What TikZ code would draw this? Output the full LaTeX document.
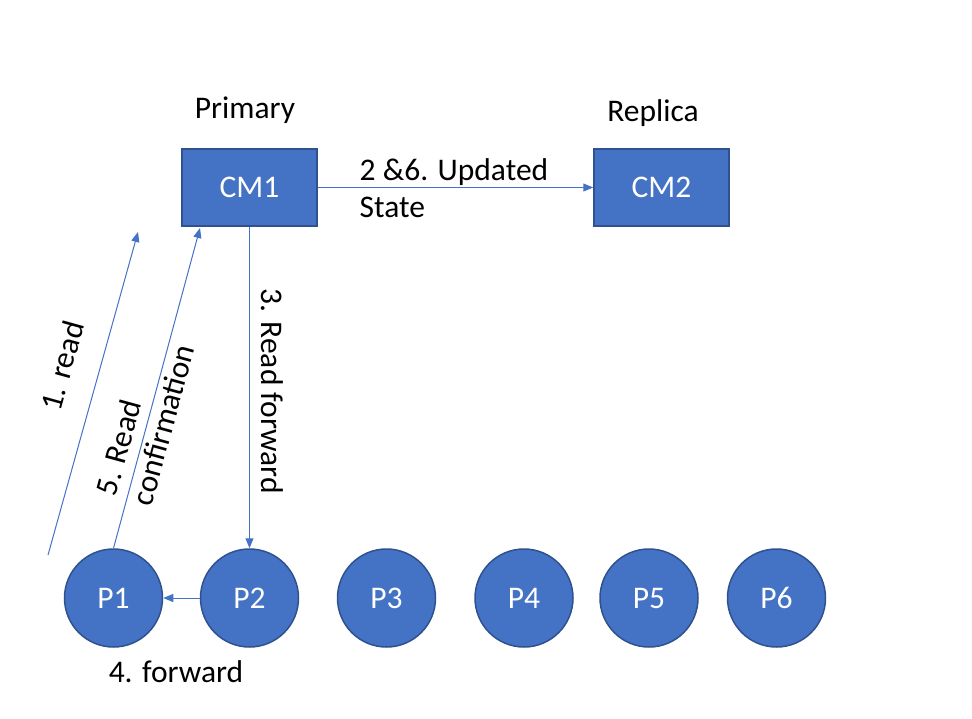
\documentclass[tikz,border=0pt]{standalone}
\usepackage{fontspec}
\setmainfont{Carlito}
\usetikzlibrary{shapes,arrows.meta,positioning}
\definecolor{nodeblue}{HTML}{4472C4}
\definecolor{edgeblue}{HTML}{2F528F}
\tikzstyle{block} = [rectangle, draw=edgeblue, line width=1.5pt, fill=nodeblue, text=white, minimum width=135pt, minimum height=77pt, inner sep=0pt]
\tikzstyle{proc} = [circle, draw=edgeblue, line width=1.5pt, fill=nodeblue, text=white, minimum size=98pt, inner sep=0pt]
\tikzstyle{line} = [draw=nodeblue, line width=1pt, -{Triangle[length=10pt,width=8pt]}]
\tikzstyle{tag} = [text=black, inner sep=0pt]
\begin{document}
\begin{tikzpicture}[x=1pt,y=-1pt,font=\fontsize{31.5}{37}\selectfont]
					\useasboundingbox (0,0) rectangle (972,718);
					\node[block] (cm1) at (249.5,187.5) {CM1};
					\node[block] (cm2) at (661.5,187.5) {CM2};
					\node[tag] (primary) at (245,110) {Primary};
					\node[tag] (replica) at (653,113) {Replica};
					\node[proc] (p1) at (113.5,598) {P1};
					\node[proc] (p2) at (249.5,598) {P2};
					\node[proc] (p3) at (386.5,598) {P3};
					\node[proc] (p4) at (524,598) {P4};
					\node[proc] (p5) at (649,598) {P5};
					\node[proc] (p6) at (776.5,598) {P6};
					\coordinate (readfrom) at (48,555);
					\coordinate (readto) at (138,232);
					\coordinate (confto) at (200,228);
					
					\path[line] (cm1) -- (cm2);
					\path[line] (cm1) -- (p2);
					\path[line] (p2) -- (p1);
					\path[line] (readfrom) -- (readto);
					\path[line] (p1.north) -- (confto);
					
					\node[tag,align=left] (updated) at (454,188) {2 \&6. Updated\\State};
					\node[tag,rotate=-90] (readfwd) at (272,391) {3. Read forward};
					\node[tag] (fwd) at (176,672) {4. forward};
					\node[tag,rotate=74.5] (read) at (62,366) {1. read};
					\node[tag,rotate=74.7,align=left] (confirm) at (145,420) {5. Read\\confirmation};
				\end{tikzpicture}
\end{document}
